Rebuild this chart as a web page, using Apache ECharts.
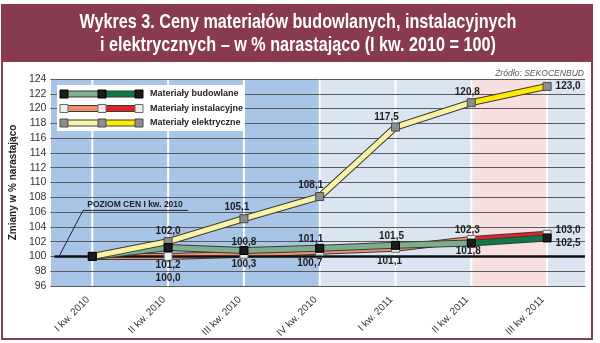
<!DOCTYPE html>
<html>
<head>
<meta charset="utf-8">
<script src="https://cdn.jsdelivr.net/npm/echarts@6/dist/echarts.min.js"></script>
<style>
  html, body { margin: 0; padding: 0; background: #ffffff; }
  #chart { width: 600px; height: 343px; }
</style>
</head>
<body>
<div id="chart"></div>
<script>
// Quarters on the horizontal axis
const quarters = ['I kw. 2010', 'II kw. 2010', 'III kw. 2010', 'IV kw. 2010', 'I kw. 2011', 'II kw. 2011', 'III kw. 2011'];
// Cumulative price index, I kw. 2010 = 100
const budowlane    = [100.0, 101.2, 100.8, 101.1, 101.5, 101.8, 102.5];
const instalacyjne = [100.0, 100.0, 100.3, 100.7, 101.1, 102.3, 103.0];
const elektryczne  = [100.0, 102.0, 105.1, 108.1, 117.5, 120.8, 123.0];
// Value axis range
const yMin = 96, yMax = 124, yStep = 2;
const baseLevel = 100;

const seriesNames = ['Materiały budowlane', 'Materiały instalacyjne', 'Materiały elektryczne'];
const titleLines = ['Wykres 3. Ceny materiałów budowlanych, instalacyjnych', 'i elektrycznych – w % narastająco (I kw. 2010 = 100)'];

// Label placement for each point: [position, distance, dx, dy] (null = no label)
const labelLayoutBud = [null, ['bottom', 8, 0, 0], ['top', 0, 0, 1], ['top', 0, -9, 0], ['top', 0, -4, 0], ['bottom', 0, -3, -1], ['right', 4, 0, 5]];
const labelLayoutIns = [null, ['bottom', 12, 0, 0], ['bottom', 1, 0, 0], ['bottom', 2, -10, 0], ['bottom', 3, -6, 0], ['top', 0, -4, 0], ['right', 4, 0, -4]];
const labelLayoutEle = [null, ['top', 1, 0, 0], ['top', 2, -7, 0], ['top', 2, -9, 0], ['top', 0, -9, 0], ['top', 1, -4, 0], ['right', 4, 0, 0]];

const FONT = '"Liberation Sans", Arial, sans-serif';
const OUTLINE = '#3a3a3a';

const styles = {
  bud: { soft: '#7fae8c', strong: '#0c7a45', marker: '#1b1b1b', markerBorder: '#000000' },
  ins: { soft: '#f0916e', strong: '#e0232b', marker: '#eeeeee', markerBorder: '#6a6a6a' },
  ele: { soft: '#faf3a4', strong: '#ffe900', marker: '#8e8e8e', markerBorder: '#4a4a4a' }
};

const fmt = v => v.toFixed(1).replace('.', ',');

function lineSeries(name, values, st, layout, zBase, zMarker) {
  const n = values.length;
  const soft = values.map((v, i) => (i < n - 1 ? v : '-'));
  const strong = values.map((v, i) => (i >= n - 2 ? v : '-'));
  const points = values.map((v, i) => {
    const l = layout[i];
    if (!l) return { value: v, label: { show: false } };
    return {
      value: v,
      label: { show: true, position: l[0], distance: l[1], offset: [l[2], l[3]] }
    };
  });
  const common = { type: 'line', symbol: 'none', silent: true, animation: false, connectNulls: false };
  return [
    Object.assign({}, common, { name: name + ' outline', data: values, z: zBase, lineStyle: { color: OUTLINE, width: 7, join: 'round' } }),
    Object.assign({}, common, { name: name + ' soft', data: soft, z: zBase + 1, lineStyle: { color: st.soft, width: 5, join: 'round' } }),
    Object.assign({}, common, { name: name + ' strong', data: strong, z: zBase + 1, lineStyle: { color: st.strong, width: 5, join: 'round' } }),
    {
      type: 'line', name: name, data: points, z: zMarker, silent: true, animation: false,
      symbol: 'rect', symbolSize: 8,
      lineStyle: { width: 0, opacity: 0 },
      itemStyle: { color: st.marker, borderColor: st.markerBorder, borderWidth: 1 },
      label: {
        show: true, formatter: p => fmt(p.value),
        fontFamily: FONT, fontSize: 10, fontWeight: 'bold', color: '#1e1e1e'
      }
    }
  ];
}

const GRID = { left: 51, right: 15, top: 79, bottom: 57 };

const baseSeries = {
  type: 'line', name: 'base', data: [], silent: true, animation: false, z: 2,
  markLine: {
    silent: true, symbol: 'none', animation: false,
    label: { show: false },
    lineStyle: { color: '#111111', width: 2.5, type: 'solid' },
    data: [{ yAxis: baseLevel }]
  }
};

const chart = echarts.init(document.getElementById('chart'), null, { renderer: 'canvas' });

const option = {
  animation: false,
  backgroundColor: '#ffffff',
  grid: GRID,
  xAxis: {
    type: 'category', data: quarters, boundaryGap: true,
    axisLine: { show: true, lineStyle: { color: '#5a5a5a', width: 1 } },
    axisTick: { show: false },
    splitLine: { show: false },
    axisLabel: { rotate: 45, interval: 0, margin: 8, padding: [0, 6, 0, 0], fontFamily: FONT, fontSize: 10, color: '#333333' }
  },
  yAxis: {
    type: 'value', min: yMin, max: yMax, interval: yStep,
    name: 'Zmiany w % narastająco', nameLocation: 'middle', nameGap: 33,
    nameTextStyle: { fontFamily: FONT, fontSize: 10, fontWeight: 'bold', color: '#222222' },
    axisLine: { show: false },
    axisTick: { show: true, inside: false, length: 4, lineStyle: { color: '#5a5a5a' } },
    splitLine: { show: true, lineStyle: { color: '#5a5a5a', width: 1 } },
    axisLabel: { margin: 8, fontFamily: FONT, fontSize: 10.5, color: '#333333' }
  },
  series: [baseSeries]
    .concat(lineSeries(seriesNames[1], instalacyjne, styles.ins, labelLayoutIns, 3, 21))
    .concat(lineSeries(seriesNames[0], budowlane, styles.bud, labelLayoutBud, 6, 22))
    .concat(lineSeries(seriesNames[2], elektryczne, styles.ele, labelLayoutEle, 9, 20))
};

chart.setOption(option);

// Background panels, frame, title, legend and annotation, placed from the axes
const W = 600;
const L = GRID.left, R = W - GRID.right, T = GRID.top, B = 343 - GRID.bottom;
const px = i => chart.convertToPixel({ xAxisIndex: 0 }, quarters[i]);
const py = v => chart.convertToPixel({ yAxisIndex: 0 }, v);

const MAROON = '#873a50';
const graphics = [];

// frame and title band
graphics.push({ type: 'rect', z: -30, silent: true, shape: { x: 2, y: 5, width: 590, height: 334 }, style: { fill: '#ffffff', stroke: MAROON, lineWidth: 2 } });
graphics.push({ type: 'rect', z: -29, silent: true, shape: { x: 1, y: 4, width: 592, height: 58 }, style: { fill: MAROON } });

// title: bold face squeezed horizontally to a condensed look
const TITLE_FONT = 'bold 21px "Liberation Sans", Arial, sans-serif';
const measure = document.createElement('canvas').getContext('2d');
measure.font = TITLE_FONT;
const titleScale = 437 / measure.measureText(titleLines[0]).width;
titleLines.forEach((t, i) => {
  graphics.push({
    type: 'text', z: 5, silent: true, x: 298, y: 22.5 + i * 23, scaleX: titleScale,
    style: { x: 0, y: 0, text: t, align: 'center', verticalAlign: 'middle', font: TITLE_FONT, fill: '#ffffff' }
  });
});

// plot panels
graphics.push({ type: 'rect', z: -20, silent: true, shape: { x: L, y: T, width: R - L, height: B - T }, style: { fill: '#dbe5f2' } });
graphics.push({ type: 'rect', z: -19, silent: true, shape: { x: L, y: T, width: px(3) - L, height: B - T }, style: { fill: '#a8c4e6' } });
graphics.push({ type: 'rect', z: -19, silent: true, shape: { x: px(5), y: T, width: px(6) - px(5), height: B - T }, style: { fill: '#f8dfe0' } });
quarters.forEach((q, i) => {
  graphics.push({ type: 'line', z: -18, silent: true, shape: { x1: px(i), y1: T, x2: px(i), y2: B }, style: { stroke: '#ffffff', lineWidth: 2 } });
});

// source note
graphics.push({ type: 'text', z: 5, silent: true, x: 584, y: 73, scaleX: 0.9, style: { x: 0, y: 0, text: 'Źródło: SEKOCENBUD', align: 'right', verticalAlign: 'middle', font: 'italic 9.5px ' + FONT, fill: '#5a5a5a' } });

// legend
const legX = 57, legY = 85, legW = 188, legH = 46;
graphics.push({ type: 'rect', z: 30, silent: true, shape: { x: legX, y: legY, width: legW, height: legH }, style: { fill: '#ffffff' } });
const legRows = [
  [seriesNames[0], styles.bud],
  [seriesNames[1], styles.ins],
  [seriesNames[2], styles.ele]
];
legRows.forEach((row, r) => {
  const y = legY + 9 + r * 14.5;
  const x0 = 64, xm = 102, x1 = 139;
  const st = row[1];
  graphics.push({ type: 'line', z: 31, silent: true, shape: { x1: x0, y1: y, x2: x1, y2: y }, style: { stroke: OUTLINE, lineWidth: 7 } });
  graphics.push({ type: 'line', z: 32, silent: true, shape: { x1: x0, y1: y, x2: xm, y2: y }, style: { stroke: st.soft, lineWidth: 5 } });
  graphics.push({ type: 'line', z: 32, silent: true, shape: { x1: xm, y1: y, x2: x1, y2: y }, style: { stroke: st.strong, lineWidth: 5 } });
  [x0, xm, x1].forEach(x => {
    graphics.push({ type: 'rect', z: 33, silent: true, shape: { x: x - 4, y: y - 4, width: 8, height: 8 }, style: { fill: st.marker, stroke: st.markerBorder, lineWidth: 1 } });
  });
  graphics.push({ type: 'text', z: 33, silent: true, style: { x: 150, y: y, text: row[0], verticalAlign: 'middle', font: 'bold 9px ' + FONT, fill: '#1e1e1e' } });
});

// base level annotation
const baseY = py(baseLevel);
const annX = L + 32, annY = baseY - 46;
graphics.push({ type: 'line', z: 25, silent: true, shape: { x1: L + 8, y1: baseY, x2: annX, y2: annY }, style: { stroke: '#222222', lineWidth: 1 } });
graphics.push({ type: 'line', z: 25, silent: true, shape: { x1: annX, y1: annY, x2: annX + 105, y2: annY }, style: { stroke: '#222222', lineWidth: 1 } });
graphics.push({ type: 'text', z: 25, silent: true, style: { x: annX + 52, y: annY - 1, text: 'POZIOM CEN I kw. 2010', align: 'center', verticalAlign: 'bottom', font: 'bold 8.5px ' + FONT, fill: '#1e1e1e' } });

chart.setOption({ graphic: { elements: graphics } });
</script>
</body>
</html>
